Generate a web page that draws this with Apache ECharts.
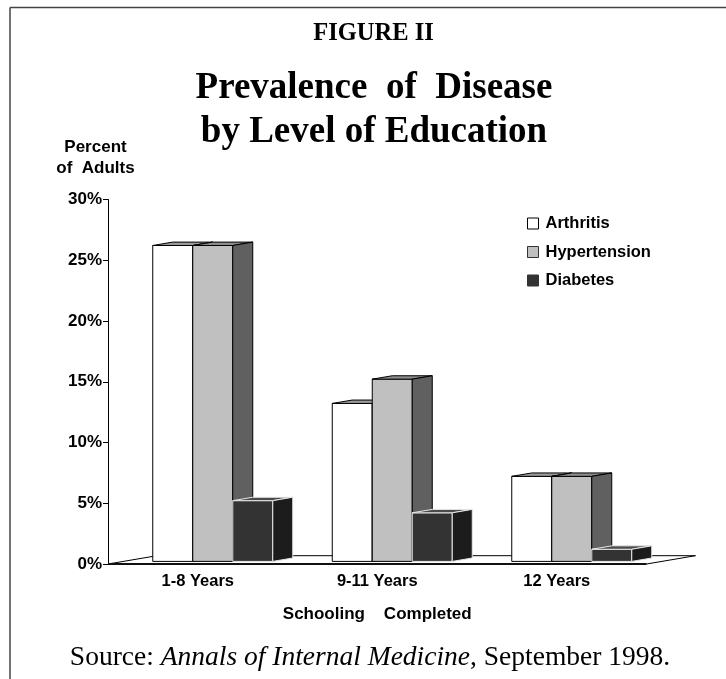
<!DOCTYPE html>
<html>
<head>
<meta charset="utf-8">
<script src="https://cdn.jsdelivr.net/npm/echarts@6/dist/echarts.min.js"></script>
<style>
html,body{margin:0;padding:0;background:#fff;}
#chart{width:726px;height:679px;}
</style>
</head>
<body>
<div id="chart"></div>
<script>
// ---- data ----
const categories = ['1-8 Years', '9-11 Years', '12 Years'];
const seriesNames = ['Arthritis', 'Hypertension', 'Diabetes'];
const arthritis = [26, 13, 7];
const hypertension = [26, 15, 7];
const diabetes = [5, 4, 1];
const yMin = 0, yMax = 30, yStep = 5;

// ---- styles ----
const SERIF = '"Liberation Serif", "Times New Roman", serif';
const SANS = '"Liberation Sans", Arial, sans-serif';
const barStyles = [
  { front: '#ffffff', top: '#9a9a9a', side: '#606060', stroke: '#000000' },
  { front: '#c0c0c0', top: '#8c8c8c', side: '#606060', stroke: '#000000' },
  { front: '#333333', top: '#4a4a4a', side: '#1c1c1c', stroke: '#e8e8e8' }
];

const chart = echarts.init(document.getElementById('chart'), null, { renderer: 'canvas' });

function barRenderer(k) {
  const st = barStyles[k];
  return function (params, api) {
    const ci = api.value(0), v = api.value(1);
    const topPt = api.coord([ci, v]);
    const basePt = api.coord([ci, 0]);
    const band = api.size([1, 0])[0];
    const bw = band * 40 / 179.5;
    const fx = band * 15 / 179.5, fy = -2.6;
    const dx = band * 20 / 179.5, dy = -3.4;
    const x0 = topPt[0] - 1.5 * bw + k * bw + fx;
    const x1 = x0 + bw;
    const yb = basePt[1] + fy, yt = topPt[1] + fy;
    const ls = { stroke: st.stroke, lineWidth: 1, lineJoin: 'round' };
    return {
      type: 'group',
      children: [
        { type: 'polygon', shape: { points: [[x0, yt], [x1, yt], [x1, yb], [x0, yb]] },
          style: Object.assign({ fill: st.front }, ls) },
        { type: 'polygon', shape: { points: [[x0, yt], [x1, yt], [x1 + dx, yt + dy], [x0 + dx, yt + dy]] },
          style: Object.assign({ fill: st.top }, ls) },
        { type: 'polygon', shape: { points: [[x1, yt], [x1 + dx, yt + dy], [x1 + dx, yb + dy], [x1, yb]] },
          style: Object.assign({ fill: st.side }, ls) }
      ]
    };
  };
}

function floorRenderer(params, api) {
  const cs = params.coordSys;
  const band = api.size([1, 0])[0];
  const ddx = band * 49 / 179.5, ddy = -8.3;
  const xl = cs.x, xr = cs.x + cs.width, yf = cs.y + cs.height;
  return {
    type: 'group',
    children: [
      { type: 'polygon', shape: { points: [[xl, yf], [xr, yf], [xr + ddx, yf + ddy], [xl + ddx, yf + ddy]] },
        style: { fill: '#ffffff', stroke: '#000', lineWidth: 1 } },
      { type: 'line', shape: { x1: xl, y1: yf, x2: xr, y2: yf },
        style: { stroke: '#111', lineWidth: 2 } }
    ]
  };
}

const valueSets = [arthritis, hypertension, diabetes];
const barSeries = valueSets.map((vals, k) => ({
  type: 'custom',
  name: seriesNames[k],
  clip: false,
  silent: true,
  z: 3,
  itemStyle: { color: barStyles[k].front, borderColor: barStyles[k].stroke },
  renderItem: barRenderer(k),
  encode: { x: 0, y: 1 },
  data: vals.map((v, i) => [i, v])
}));

const option = {
  animation: false,
  backgroundColor: '#ffffff',
  title: [
    { text: 'FIGURE II', left: 373.5, top: 20, padding: 0, textAlign: 'center',
      textStyle: { fontFamily: SERIF, fontWeight: 'bold', fontSize: 24.5, lineHeight: 28, color: '#000' } },
    { text: 'Prevalence  of  Disease\nby Level of Education', left: 374, top: 66, padding: 0, textAlign: 'center',
      textStyle: { fontFamily: SERIF, fontWeight: 'bold', fontSize: 37, lineHeight: 44, color: '#000' } },
    { text: 'Percent\nof  Adults', left: 95.5, top: 137, padding: 0, textAlign: 'center',
      textStyle: { fontFamily: SANS, fontWeight: 'bold', fontSize: 17, lineHeight: 21, color: '#000' } },
    { text: '{n|Source: }{i|Annals of Internal Medicine}{n|, September 1998.}', left: 370, top: 643, padding: 0, textAlign: 'center',
      textStyle: { fontWeight: 'normal', rich: {
        n: { fontFamily: SERIF, fontSize: 27.5, fontWeight: 'normal', lineHeight: 30, color: '#000' },
        i: { fontFamily: SERIF, fontSize: 27.5, fontWeight: 'normal', lineHeight: 30, fontStyle: 'italic', color: '#000' }
      } } }
  ],
  legend: {
    orient: 'vertical',
    left: 527, top: 215,
    padding: 0,
    itemWidth: 11, itemHeight: 11, itemGap: 11.5,
    icon: 'rect',
    selectedMode: false,
    textStyle: { fontFamily: SANS, fontWeight: 'bold', fontSize: 16.5, lineHeight: 14, color: '#000', padding: [0, 0, 0, 2] },
    data: [
      { name: 'Arthritis', itemStyle: { color: '#ffffff', borderColor: '#000', borderWidth: 1 } },
      { name: 'Hypertension', itemStyle: { color: '#c0c0c0', borderColor: '#333', borderWidth: 1 } },
      { name: 'Diabetes', itemStyle: { color: '#333333', borderColor: '#333', borderWidth: 1 } }
    ]
  },
  grid: { left: 108, top: 199.5, width: 538.5, height: 364.5, containLabel: false },
  xAxis: {
    type: 'category',
    data: categories,
    axisLine: { show: false },
    axisTick: { show: false },
    axisLabel: { margin: 9, fontFamily: SANS, fontWeight: 'bold', fontSize: 16.5, color: '#000' },
    name: 'Schooling    Completed',
    nameLocation: 'middle',
    nameGap: 42,
    nameTextStyle: { fontFamily: SANS, fontWeight: 'bold', fontSize: 17, color: '#000' }
  },
  yAxis: {
    type: 'value',
    min: yMin, max: yMax, interval: yStep,
    splitLine: { show: false },
    axisLine: { show: true, lineStyle: { color: '#000', width: 1 } },
    axisTick: { show: true, length: 5, lineStyle: { color: '#000' } },
    axisLabel: { margin: 6, formatter: '{value}%', fontFamily: SANS, fontWeight: 'bold', fontSize: 17, color: '#000' }
  },
  graphic: [
    { type: 'line', shape: { x1: 10, y1: 7.5, x2: 726, y2: 7.5 }, style: { stroke: '#444', lineWidth: 1.5 }, silent: true },
    { type: 'line', shape: { x1: 10, y1: 7.5, x2: 10, y2: 679 }, style: { stroke: '#444', lineWidth: 1.5 }, silent: true }
  ],
  series: [
    { type: 'custom', name: 'floor', clip: false, silent: true, z: 1,
      renderItem: floorRenderer, encode: { x: 0, y: 1 }, data: [[0, 0]] }
  ].concat(barSeries)
};

chart.setOption(option);
</script>
</body>
</html>
